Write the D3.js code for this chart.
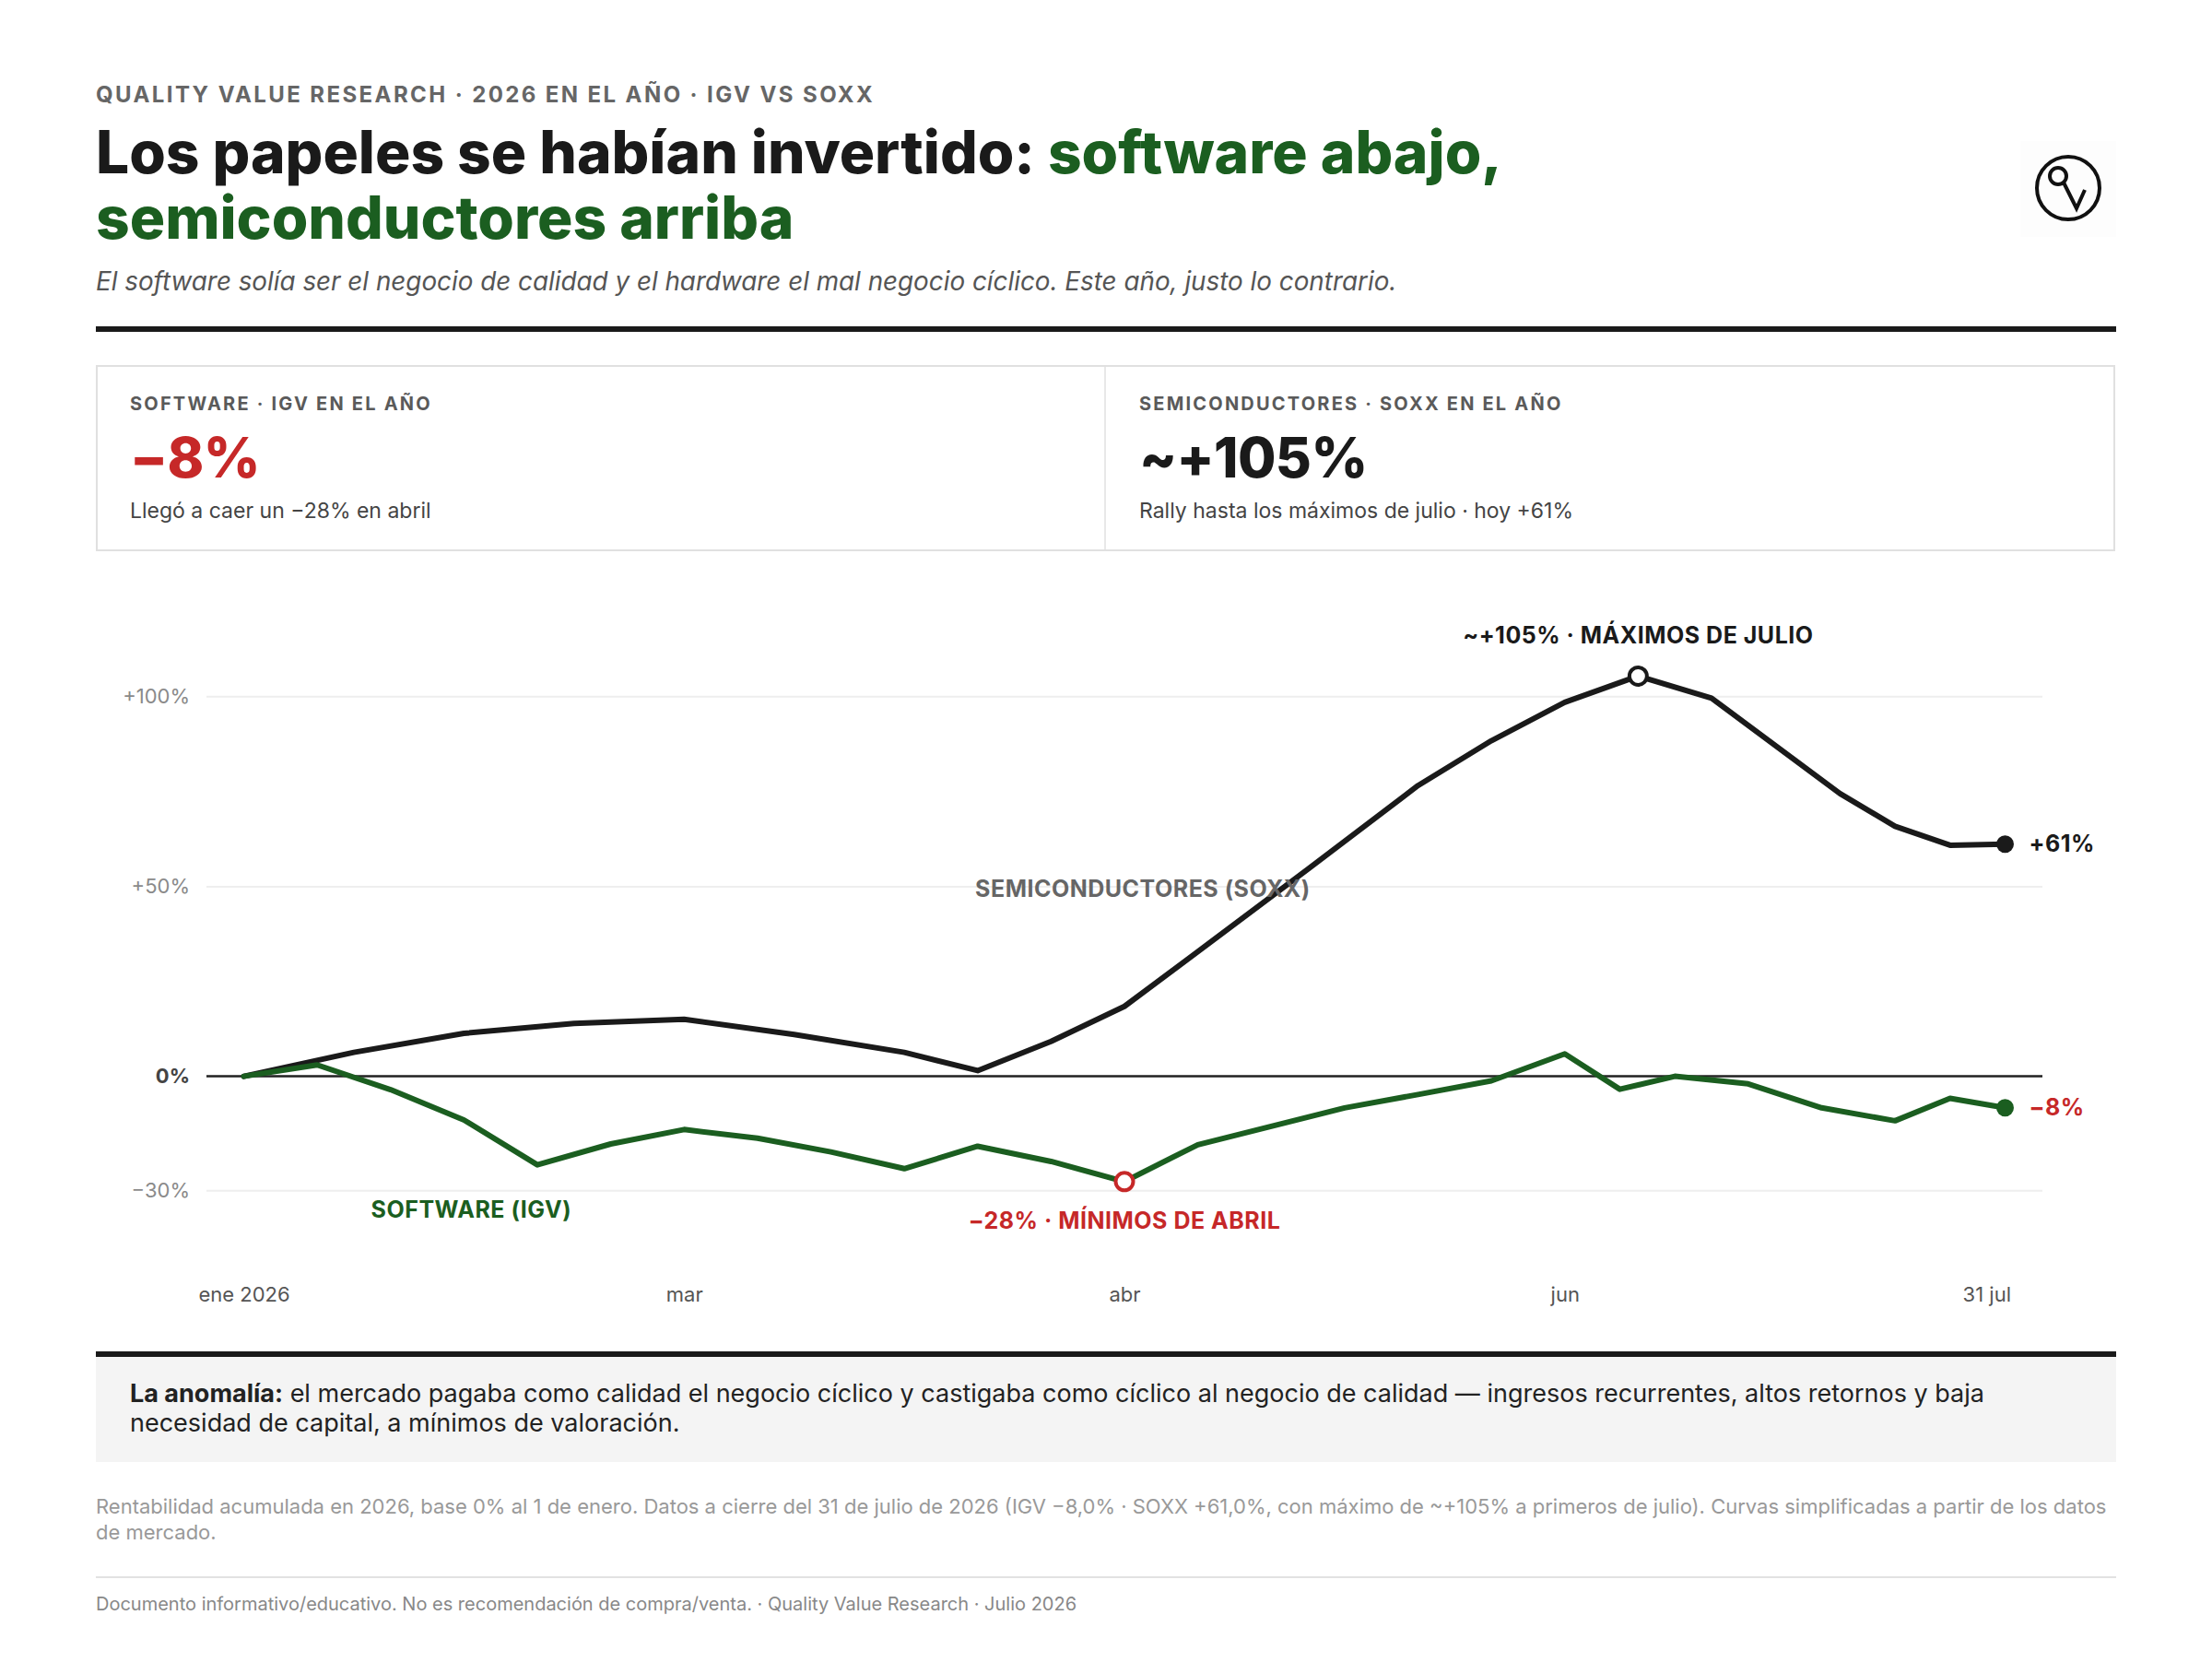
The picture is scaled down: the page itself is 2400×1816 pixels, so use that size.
<!DOCTYPE html>
<html>
<head>
<meta charset="utf-8">
<script src="https://cdn.jsdelivr.net/npm/d3@7"></script>
<style>
  body { margin: 0; background: #fff; }
  svg { display: block; font-family: Inter, "Noto Sans", sans-serif; }
</style>
</head>
<body>
<div id="chart"></div>
<script>
// data: x = position on the Jan..31 Jul axis (0..48), y = % YTD
const soxxX = [0, 3, 6, 9, 12, 15, 18, 20, 22, 24, 26, 29, 32, 34, 36, 38, 40, 43.5, 45, 46.5, 48];
const soxxY = [0, 6.3, 11.3, 13.9, 15.0, 11.0, 6.3, 1.5, 9.2, 18.4, 32.8, 54.5, 76.5, 88.3, 98.4, 105.3, 99.5, 74.4, 65.8, 60.8, 61.1];

const igvX = [0, 2, 4, 6, 8, 10, 12, 14, 16, 18, 20, 22, 24, 26, 30, 32, 34, 36, 37.5, 39, 41, 43, 45, 46.5, 48];
const igvY = [0, 3.0, -3.5, -11.5, -23.3, -17.8, -14.0, -16.3, -19.9, -24.3, -18.4, -22.4, -27.7, -18.0, -8.3, -4.8, -1.2, 5.9, -3.4, 0, -2.0, -8.3, -11.7, -5.8, -8.3];

const xTicks = [0, 12, 24, 36, 48];
const xTickLabels = ["ene 2026", "mar", "abr", "jun", "31 jul"];
const yTicks = [-30, 0, 50, 100];
const yTickLabels = ["\u221230%", "0%", "+50%", "+100%"];

const cards = [
    { label: "SOFTWARE \u00b7 IGV EN EL A\u00d1O", value: "\u22128%", note: "Lleg\u00f3 a caer un \u221228% en abril", color: "#c62828" },
    { label: "SEMICONDUCTORES \u00b7 SOXX EN EL A\u00d1O", value: "~+105%", note: "Rally hasta los m\u00e1ximos de julio \u00b7 hoy +61%", color: "#1a1a1a" }
];

const green = "#1b5e20";
const red = "#c62828";
const ink = "#1a1a1a";

const W = 2400, H = 1816;
const left = 104, right = 2296;

const svg = d3.select("#chart")
    .append("svg")
    .attr("width", W)
    .attr("height", H)
    .attr("viewBox", `0 0 ${W} ${H}`);

svg.append("rect").attr("width", W).attr("height", H).attr("fill", "#fff");

// header
svg.append("text")
    .attr("x", left).attr("y", 111)
    .attr("font-size", 24).attr("font-weight", 700)
    .attr("letter-spacing", "0.1em")
    .attr("fill", "#666")
    .text("QUALITY VALUE RESEARCH \u00b7 2026 EN EL A\u00d1O \u00b7 IGV VS SOXX");

const title = svg.append("text")
    .attr("x", left).attr("y", 188)
    .attr("font-size", 64).attr("font-weight", 800)
    .attr("fill", ink);
title.append("tspan").text("Los papeles se hab\u00edan invertido: ");
title.append("tspan").attr("fill", green).text("software abajo,");

svg.append("text")
    .attr("x", left).attr("y", 259)
    .attr("font-size", 64).attr("font-weight", 800)
    .attr("fill", green)
    .text("semiconductores arriba");

svg.append("text")
    .attr("x", left).attr("y", 315)
    .attr("font-size", 27.8).attr("font-style", "italic")
    .attr("fill", "#555")
    .text("El software sol\u00eda ser el negocio de calidad y el hardware el mal negocio c\u00edclico. Este a\u00f1o, justo lo contrario.");

svg.append("rect").attr("x", left).attr("y", 354).attr("width", right - left).attr("height", 6).attr("fill", ink);

// logo
const logo = svg.append("g").attr("transform", "translate(2244,204)");
logo.append("rect").attr("x", -52).attr("y", -51).attr("width", 104).attr("height", 104).attr("fill", "#fdfdfd");
logo.append("circle").attr("r", 34).attr("fill", "none").attr("stroke", "#111").attr("stroke-width", 4);
logo.append("circle").attr("cx", -11).attr("cy", -13).attr("r", 9).attr("fill", "none").attr("stroke", "#111").attr("stroke-width", 4);
logo.append("path")
    .attr("d", "M-5,-6 L9,22 L18,2")
    .attr("fill", "none").attr("stroke", "#111").attr("stroke-width", 4)
    .attr("stroke-linejoin", "miter");

// cards
svg.append("rect")
    .attr("x", 105).attr("y", 397).attr("width", 2189).attr("height", 200)
    .attr("fill", "#fff").attr("stroke", "#e0e0e0").attr("stroke-width", 2);
svg.append("line")
    .attr("x1", 1199).attr("x2", 1199).attr("y1", 397).attr("y2", 597)
    .attr("stroke", "#e0e0e0").attr("stroke-width", 1.5);

const cardX = [141, 1236];
cards.forEach(function (c, i) {
    const g = svg.append("g").attr("transform", `translate(${cardX[i]},0)`);
    g.append("text").attr("y", 445)
        .attr("font-size", 20).attr("font-weight", 700).attr("letter-spacing", "0.11em")
        .attr("fill", "#5a5a5a").text(c.label);
    g.append("text").attr("y", 518)
        .attr("font-size", 60).attr("font-weight", 800).attr("letter-spacing", "-0.01em")
        .attr("fill", c.color).text(c.value);
    g.append("text").attr("y", 562)
        .attr("font-size", 23).attr("fill", "#444").text(c.note);
});

// chart
const x = d3.scaleLinear().domain([0, 48]).range([264.5, 2175.5]);
const y = d3.scaleLinear().domain([-30, 100]).range([1291.3, 755.3]);
const gridLeft = 224, gridRight = 2216;

const yAxis = svg.append("g")
    .attr("transform", `translate(${gridLeft},0)`)
    .call(d3.axisLeft(y)
        .tickValues(yTicks)
        .tickSize(-(gridRight - gridLeft))
        .tickPadding(18)
        .tickFormat((d, i) => yTickLabels[i]));
yAxis.select(".domain").remove();
yAxis.selectAll(".tick line").attr("stroke", "#eeeeee").attr("stroke-width", 2);
yAxis.selectAll(".tick text")
    .attr("font-family", "Inter, sans-serif")
    .attr("font-size", 22)
    .attr("fill", d => d === 0 ? "#444" : "#8a8a8a")
    .attr("font-weight", d => d === 0 ? 700 : 400);

svg.append("line")
    .attr("x1", gridLeft).attr("x2", gridRight)
    .attr("y1", y(0)).attr("y2", y(0))
    .attr("stroke", "#222").attr("stroke-width", 2.5);

const xAxis = svg.append("g")
    .attr("transform", "translate(0,1396)")
    .call(d3.axisBottom(x)
        .tickValues(xTicks)
        .tickSize(0)
        .tickPadding(0)
        .tickFormat((d, i) => xTickLabels[i]));
xAxis.select(".domain").remove();
xAxis.selectAll(".tick text")
    .attr("font-family", "Inter, sans-serif")
    .attr("font-size", 22)
    .attr("fill", "#555")
    .attr("text-anchor", d => d === 48 ? "end" : "middle")
    .attr("dx", d => d === 48 ? 6 : 0);

const line = d3.line().x(d => x(d[0])).y(d => y(d[1]));

svg.append("path")
    .datum(d3.zip(soxxX, soxxY))
    .attr("d", line)
    .attr("fill", "none").attr("stroke", ink).attr("stroke-width", 6)
    .attr("stroke-linejoin", "round").attr("stroke-linecap", "round");

svg.append("path")
    .datum(d3.zip(igvX, igvY))
    .attr("d", line)
    .attr("fill", "none").attr("stroke", green).attr("stroke-width", 6)
    .attr("stroke-linejoin", "round").attr("stroke-linecap", "round");

// markers
const peakI = soxxY.indexOf(d3.max(soxxY));
const lowI = igvY.indexOf(d3.min(igvY));
const lastS = soxxX.length - 1, lastI = igvX.length - 1;

svg.append("circle")
    .attr("cx", x(soxxX[peakI])).attr("cy", y(soxxY[peakI])).attr("r", 9.5)
    .attr("fill", "#fff").attr("stroke", ink).attr("stroke-width", 4);
svg.append("circle")
    .attr("cx", x(igvX[lowI])).attr("cy", y(igvY[lowI])).attr("r", 9.5)
    .attr("fill", "#fff").attr("stroke", red).attr("stroke-width", 4);
svg.append("circle")
    .attr("cx", x(soxxX[lastS])).attr("cy", y(soxxY[lastS])).attr("r", 9.5)
    .attr("fill", ink);
svg.append("circle")
    .attr("cx", x(igvX[lastI])).attr("cy", y(igvY[lastI])).attr("r", 9.5)
    .attr("fill", green);

// labels
function label(tx, ty, txt, color, anchor) {
    return svg.append("text")
        .attr("x", tx).attr("y", ty)
        .attr("font-size", 25).attr("font-weight", 700)
        .attr("letter-spacing", "0.02em")
        .attr("text-anchor", anchor || "middle")
        .attr("fill", color)
        .text(txt);
}

label(x(soxxX[peakI]), y(soxxY[peakI]) - 35, "~+105% \u00b7 M\u00c1XIMOS DE JULIO", ink);
label(x(igvX[lowI]), y(igvY[lowI]) + 51, "\u221228% \u00b7 M\u00cdNIMOS DE ABRIL", red);
label(x(48) + 26, y(soxxY[lastS]) + 8, "+61%", ink, "start");
label(x(48) + 26, y(igvY[lastI]) + 8, "\u22128%", red, "start");
label(x(24.5), y(47.2), "SEMICONDUCTORES (SOXX)", "#666");
label(x(6.2), y(-37.3), "SOFTWARE (IGV)", green);

// takeaway box
svg.append("rect").attr("x", left).attr("y", 1466).attr("width", right - left).attr("height", 6).attr("fill", ink);
svg.append("rect").attr("x", left).attr("y", 1472).attr("width", right - left).attr("height", 114).attr("fill", "#f4f4f4");

const note = svg.append("text")
    .attr("x", 141).attr("y", 1521)
    .attr("font-size", 27).attr("fill", "#222");
note.append("tspan").attr("font-weight", 700).text("La anomal\u00eda:");
note.append("tspan").text(" el mercado pagaba como calidad el negocio c\u00edclico y castigaba como c\u00edclico al negocio de calidad \u2014 ingresos recurrentes, altos retornos y baja");
svg.append("text")
    .attr("x", 141).attr("y", 1553)
    .attr("font-size", 27).attr("fill", "#222")
    .text("necesidad de capital, a m\u00ednimos de valoraci\u00f3n.");

// source + footer
const src = [
    "Rentabilidad acumulada en 2026, base 0% al 1 de enero. Datos a cierre del 31 de julio de 2026 (IGV \u22128,0% \u00b7 SOXX +61,0%, con m\u00e1ximo de ~+105% a primeros de julio). Curvas simplificadas a partir de los datos",
    "de mercado."
];
svg.selectAll(".src")
    .data(src)
    .enter()
    .append("text")
    .attr("class", "src")
    .attr("x", left).attr("y", (d, i) => 1642 + i * 28)
    .attr("font-size", 22).attr("fill", "#999")
    .text(d => d);

svg.append("rect").attr("x", left).attr("y", 1710).attr("width", right - left).attr("height", 2).attr("fill", "#e2e2e2");

svg.append("text")
    .attr("x", left).attr("y", 1747)
    .attr("font-size", 20).attr("fill", "#888")
    .text("Documento informativo/educativo. No es recomendaci\u00f3n de compra/venta. \u00b7 Quality Value Research \u00b7 Julio 2026");
</script>
</body>
</html>
